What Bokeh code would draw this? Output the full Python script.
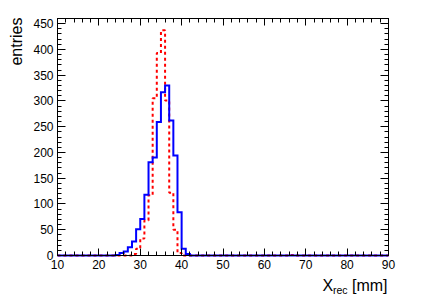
import numpy as np
from bokeh.plotting import figure
from bokeh.models import Range1d, LinearAxis, Label, FixedTicker
from bokeh.embed import file_html
from bokeh.resources import INLINE

# ---- data (bin lower edges in mm, bin width 1 mm) ----
bin_lo_blue = [24, 25, 26, 27, 28, 29, 30, 31, 32, 33, 34, 35, 36, 37, 38, 39, 40, 41]
counts_blue = [1, 5, 8, 16, 27, 51, 71, 118, 181, 190, 259, 317, 330, 262, 194, 84, 13, 3]
bin_lo_red = [28, 29, 30, 31, 32, 33, 34, 35, 36, 37, 38, 39, 66]
counts_red = [3, 13, 33, 68, 117, 305, 393, 437, 301, 122, 50, 5, 1]
x_lo, x_hi, bin_w = 10, 90, 1
y_lo, y_max = 0, 460
x_ticks = [10, 20, 30, 40, 50, 60, 70, 80, 90]
y_ticks = [0, 50, 100, 150, 200, 250, 300, 350, 400, 450]

FONT = "Liberation Sans"
W, H = 430, 294
# frame box in canvas pixels
FL, FR, FT, FB = 57, 388, 18, 255
sx = (FR - FL) / (x_hi - x_lo)
sy = (FB - FT) / (y_max - y_lo)

edges = np.arange(x_lo, x_hi + bin_w, bin_w)


def hist_steps(lo, counts):
    vals = np.zeros(len(edges) - 1)
    for b, c in zip(lo, counts):
        vals[int((b - x_lo) // bin_w)] = c
    return edges, np.append(vals, 0.0)


# the plotting area covers the whole canvas; the histogram box is drawn inside it
p = figure(width=W, height=H,
           x_range=Range1d(x_lo - FL / sx, x_lo + (W - FL) / sx),
           y_range=Range1d(y_lo - (H - FB) / sy, y_lo + FB / sy),
           output_backend="svg", toolbar_location=None,
           min_border_left=0, min_border_right=0, min_border_top=0, min_border_bottom=0)
p.grid.visible = False
p.outline_line_color = None
p.background_fill_color = "white"
p.border_fill_color = "white"

xr, yr = hist_steps(bin_lo_red, counts_red)
p.step(xr, yr, mode="after", line_color="#ff0000", line_width=2, line_dash="3 3")
xb, yb = hist_steps(bin_lo_blue, counts_blue)
p.step(xb, yb, mode="after", line_color="#0000ff", line_width=2, line_join="miter")

# frame box
p.quad(left=[x_lo], right=[x_hi], bottom=[y_lo], top=[y_max],
       fill_color=None, line_color="black", line_width=1)

xt = FixedTicker(ticks=x_ticks, minor_ticks=list(range(x_lo, x_hi + 1, 2)))
yt = FixedTicker(ticks=y_ticks, minor_ticks=list(range(y_lo, y_max + 1, 10)))


def style(ax, ticker, major, minor, loc, bounds, labels=True):
    ax.ticker = ticker
    ax.fixed_location = loc
    ax.bounds = bounds
    ax.major_tick_in = major
    ax.major_tick_out = 0
    ax.minor_tick_in = minor
    ax.minor_tick_out = 0
    ax.axis_line_color = "black"
    ax.major_tick_line_color = "black"
    ax.minor_tick_line_color = "black"
    ax.axis_label = None
    if labels:
        ax.major_label_text_font = FONT
        ax.major_label_text_font_size = "12px"
        ax.major_label_text_color = "black"
        ax.major_label_standoff = 4
    else:
        ax.major_label_text_font_size = "1px"
        ax.major_label_text_alpha = 0
        ax.major_label_standoff = 0


style(p.xaxis[0], xt, 7, 4, y_lo, (x_lo, x_hi))
style(p.yaxis[0], yt, 8, 4, x_lo, (y_lo, y_max))
top = LinearAxis()
style(top, xt, 7, 4, y_max, (x_lo, x_hi), labels=False)
p.add_layout(top, "above")
right = LinearAxis()
style(right, yt, 8, 4, x_hi, (y_lo, y_max), labels=False)
p.add_layout(right, "right")


def px_x(px):
    return x_lo + (px - FL) / sx


def px_y(py):
    return y_lo + (FB - py) / sy


# axis titles
p.add_layout(Label(x=px_x(16), y=px_y(17), text="entries",
                   angle=np.pi / 2, text_align="right", text_baseline="alphabetic",
                   text_font=FONT, text_font_size="16px", text_color="black"))
p.add_layout(Label(x=px_x(322), y=px_y(285), text="X",
                   text_align="left", text_baseline="alphabetic",
                   text_font=FONT, text_font_size="16px", text_color="black"))
p.add_layout(Label(x=px_x(332.5), y=px_y(289), text="rec",
                   text_align="left", text_baseline="alphabetic",
                   text_font=FONT, text_font_size="10.5px", text_color="black"))
p.add_layout(Label(x=px_x(387), y=px_y(285), text="[mm]",
                   text_align="right", text_baseline="alphabetic",
                   text_font=FONT, text_font_size="16px", text_color="black"))

open("out.html", "w").write(file_html(p, INLINE))
